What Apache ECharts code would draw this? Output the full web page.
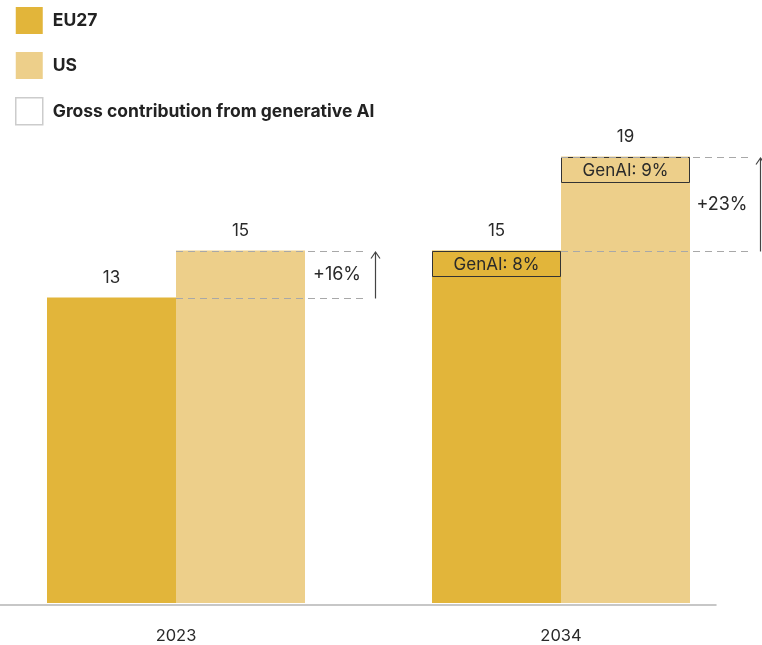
<!DOCTYPE html>
<html>
<head>
<meta charset="utf-8">
<script src="https://cdn.jsdelivr.net/npm/echarts/dist/echarts.min.js"></script>
<style>
  html, body { margin: 0; padding: 0; background: #fff; }
  #chart { width: 762px; height: 645px; }
</style>
</head>
<body>
<div id="chart"></div>
<script>
// Productivity comparison, EU27 vs US
const years = ['2023', '2034'];
const eu27 = [13, 15];
const us = [15, 19];
const genAiEu = [null, 8];   // gross GenAI contribution, %
const genAiUs = [null, 9];
const gapLabels = ['+16%', '+23%'];

const EU_COLOR = '#E2B53A';
const US_COLOR = '#EDCF8A';
const TEXT = '#2a2a2a';
const FONT = 'Inter, "Noto Sans", sans-serif';
const FS = 17;
const BAR_W = 129;
const GENAI_NAME = 'Gross contribution from generative AI';

const chart = echarts.init(document.getElementById('chart'));

const pairs = years.map((y, i) => [i, eu27[i], us[i]]);

// outlined GenAI boxes sitting at the top of the 2034 bars
function renderGenAi(params, api) {
  const i = api.value(0);
  const cx = api.coord([i, 0])[0];
  const children = [];
  const add = (left, v, pct, fill) => {
    const yTop = Math.round(api.coord([i, v])[1]);
    children.push({
      type: 'rect',
      shape: { x: left + 0.5, y: yTop + 0.5, width: BAR_W - 1, height: 25 },
      style: { fill: fill, stroke: '#333', lineWidth: 1 }
    });
    children.push({
      type: 'text', x: left + BAR_W / 2, y: yTop + 13.5,
      style: { text: 'GenAI: ' + pct + '%', fill: TEXT, font: FS + 'px ' + FONT,
               align: 'center', verticalAlign: 'middle' }
    });
  };
  if (genAiEu[i] != null) add(cx - BAR_W, api.value(1), genAiEu[i], EU_COLOR);
  if (genAiUs[i] != null) add(cx, api.value(2), genAiUs[i], US_COLOR);
  return { type: 'group', children: children };
}

// dashed guides, arrow and percentage gap for each year
function renderGap(params, api) {
  const i = api.value(0);
  const cx = api.coord([i, 0])[0];
  const yLow = Math.round(api.coord([i, api.value(1)])[1]) + 0.5;
  const yHigh = Math.round(api.coord([i, api.value(2)])[1]) + 0.5;
  const x2 = cx + 190;
  const ax = Math.round(cx + 199) + 0.5;
  const dash = { stroke: '#a8a8a8', lineWidth: 1, lineDash: [7, 5], fill: null };
  return {
    type: 'group',
    children: [
      { type: 'line', shape: { x1: cx, y1: yHigh, x2: x2, y2: yHigh }, style: dash },
      { type: 'line', shape: { x1: cx, y1: yLow, x2: x2, y2: yLow }, style: dash },
      { type: 'line', shape: { x1: ax, y1: yLow, x2: ax, y2: yHigh + 1 },
        style: { stroke: '#444', lineWidth: 1.2 } },
      { type: 'polyline', shape: { points: [[ax - 4.5, yHigh + 7], [ax, yHigh + 0.5], [ax + 4.5, yHigh + 7]] },
        style: { stroke: '#444', lineWidth: 1.2, fill: null } },
      { type: 'text', x: cx + 161, y: (yLow + yHigh) / 2,
        style: { text: gapLabels[i], fill: TEXT, font: '18px ' + FONT,
                 align: 'center', verticalAlign: 'middle' } }
    ]
  };
}

const valueLabel = {
  show: true, position: 'top', distance: 11,
  color: TEXT, fontFamily: FONT, fontSize: FS
};

chart.setOption({
  animation: false,
  backgroundColor: '#fff',
  legend: {
    orient: 'vertical', left: 15, top: 7, padding: 0,
    itemWidth: 27, itemHeight: 27, itemGap: 18,
    icon: 'rect', selectedMode: false,
    textStyle: { fontFamily: FONT, fontSize: 17.5, fontWeight: 'bold', color: '#222', padding: [0, 0, 0, 5] },
    data: [
      { name: 'EU27', itemStyle: { color: EU_COLOR } },
      { name: 'US', itemStyle: { color: US_COLOR } },
      { name: GENAI_NAME, itemStyle: { color: '#fff', borderColor: '#cccccc', borderWidth: 1.5 } }
    ]
  },
  grid: [
    { left: 176, right: 201, top: 86, bottom: 40 },
    { left: 0, right: 46, top: 603.5, bottom: 40.5 }
  ],
  xAxis: [
    {
      type: 'category', data: years, gridIndex: 0, boundaryGap: false,
      axisLine: { show: false }, axisTick: { show: false }, splitLine: { show: false },
      axisLabel: { color: TEXT, fontFamily: FONT, fontSize: 16.5, margin: 25 }
    },
    {
      type: 'value', gridIndex: 1, min: 0, max: 1, position: 'bottom',
      axisLine: { show: true, lineStyle: { color: '#b5b5b5', width: 1.5 } },
      axisTick: { show: false }, axisLabel: { show: false }, splitLine: { show: false }
    }
  ],
  yAxis: [
    { type: 'value', gridIndex: 0, min: 0, max: 22, show: false, splitLine: { show: false } },
    { type: 'value', gridIndex: 1, show: false, splitLine: { show: false } }
  ],
  series: [
    {
      name: 'EU27', type: 'bar', data: eu27, barWidth: BAR_W, barGap: '0%', clip: false,
      itemStyle: { color: EU_COLOR }, label: valueLabel
    },
    {
      name: 'US', type: 'bar', data: us, barWidth: BAR_W, barGap: '0%', clip: false,
      itemStyle: { color: US_COLOR }, label: valueLabel
    },
    {
      name: GENAI_NAME, type: 'custom', data: pairs, encode: { x: 0, y: [1, 2] },
      itemStyle: { color: '#fff' }, renderItem: renderGenAi, z: 3, clip: false
    },
    {
      name: 'gap', type: 'custom', data: pairs, encode: { x: 0, y: [1, 2] },
      renderItem: renderGap, z: 4, silent: true, clip: false
    }
  ]
});
</script>
</body>
</html>
